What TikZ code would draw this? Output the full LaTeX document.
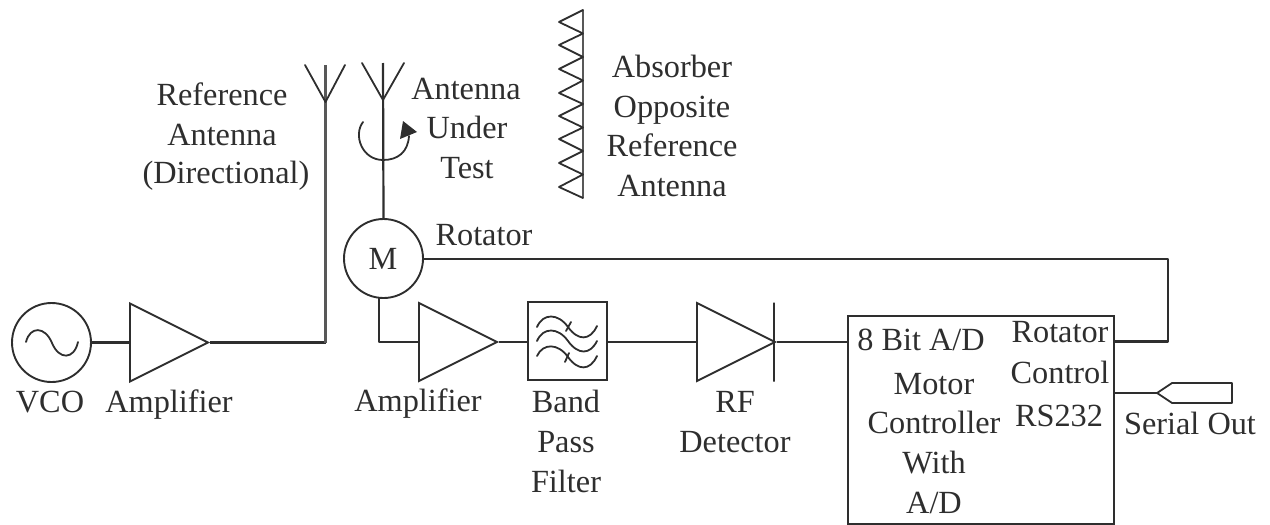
\documentclass[tikz,border=0pt]{standalone}
\usepackage{fontspec}
\setmainfont{Liberation Serif}
\usetikzlibrary{shapes.geometric,arrows.meta}
\definecolor{ink}{HTML}{2E2E2E}
\tikzset{
  wire/.style={draw=ink,line width=2.2pt,line join=round},
  thin wire/.style={draw=ink,line width=1.8pt,line cap=round,line join=round},
  shaft/.style={draw=ink!80,line width=2.8pt},
  amp/.style={isosceles triangle,isosceles triangle stretches,draw=ink,line width=1.9pt,
    minimum width=78pt,minimum height=78pt,inner sep=0pt,anchor=west},
  disc/.style={circle,draw=ink,line width=1.9pt,minimum size=79pt,inner sep=0pt},
  lbl/.style={text=ink,inner sep=0pt,anchor=base,font=\fontsize{32.3}{38}\selectfont},
}
\begin{document}
\begin{tikzpicture}[x=1pt,y=-1pt]
\useasboundingbox (0,0) rectangle (1270,525);
% blocks
\node[disc] (vco) at (51.5,342.5) {};
\node[amp] (amp1) at (129,342.5) {};
\node[disc] (motor) at (383.5,258.5) {};
\node[lbl] (mlabel) at (383,269) {M};
\node[amp] (amp2) at (418,342) {};
\node[rectangle,draw=ink,line width=2.1pt,minimum width=79pt,minimum height=78pt,inner sep=0pt] (filter) at (567.5,341) {};
\node[amp] (amp3) at (696,342) {};
\node[rectangle,draw=ink,line width=1.8pt,minimum width=0pt,minimum height=79pt,inner sep=0pt] (diode) at (774,342) {};
\node[rectangle,draw=ink,line width=2.1pt,minimum width=266pt,minimum height=208pt,inner sep=0pt] (box) at (981,420) {};
% free-end coordinates
\coordinate (ant1base) at (325.5,342.5);
\coordinate (ant1top) at (325.5,65);
\coordinate (ant1join) at (325.5,102);
\coordinate (ant1l) at (305,65);
\coordinate (ant1r) at (345,65);
\coordinate (ant2top) at (383,63);
\coordinate (ant2join) at (383,100);
\coordinate (ant2l) at (362,63);
\coordinate (ant2r) at (404,63);
\coordinate (mdrop) at (379,298);
\coordinate (mcorner) at (379,342);
\coordinate (boxin) at (848,342);
\coordinate (boxrot) at (1114,341.5);
\coordinate (rotc1) at (1168,259);
\coordinate (rotc2) at (1168,341.5);
\coordinate (boxser) at (1114,393);
\coordinate (sertip) at (1157,393);
% connectors
\draw[wire] (vco.east) -- (amp1.west);
\draw[wire] (amp1.apex) -- (ant1base);
\draw[shaft] (ant1base) -- (ant1top);
\draw[thin wire] (ant1l) -- (ant1join) -- (ant1r);
\draw[wire] (motor.north) -- (ant2top);
\draw[thin wire] (ant2l) -- (ant2join) -- (ant2r);
\draw[wire] (mdrop) -- (mcorner) -- (amp2.west);
\draw[wire] (amp2.apex) -- (filter.west |- amp2.apex);
\draw[wire] (filter.east |- amp3.west) -- (amp3.west);
\draw[wire] (amp3.apex) -- (boxin);
\draw[wire] (motor.east |- rotc1) -- (rotc1) -- (rotc2) -- (boxrot);
\draw[wire] (boxser) -- (sertip);
% serial connector
\draw[thin wire] (sertip) -- (1172,383) -- (1232,383) -- (1232,403) -- (1172,403) -- cycle;
% oscillator sine
\draw[thin wire] (26,342) .. controls (30,326) and (45,326) .. (52,343) .. controls (59,360) and (74,360) .. (78,342);
% filter waves
\draw[thin wire] (537,327) .. controls (543,313) and (558,313) .. (568,327) .. controls (578,341) and (590,341) .. (597,326);
\draw[thin wire] (537,341) .. controls (543,327) and (558,327) .. (568,341) .. controls (578,355) and (590,355) .. (597,341);
\draw[thin wire] (537,356) .. controls (543,343) and (558,343) .. (568,357) .. controls (578,371) and (590,371) .. (597,356);
\draw[thin wire] (566,331) -- (571,322);
\draw[thin wire] (565,362) -- (569,353);
% rotation arrow
\draw[thin wire] (363,122) .. controls (353,135) and (362,160) .. (383,160) .. controls (398,160) and (408,152) .. (409,136);
\fill[ink] (417,132) -- (403,121) -- (400,139) -- cycle;
% absorber
\draw[shaft] (583,10) -- (583,198);
\draw[thin wire] (583,10) -- (559,22) -- (583,33.5) -- (559,45) -- (583,57) -- (559,69) -- (583,80.5) -- (559,93) -- (583,104) -- (559,116) -- (583,127.5) -- (559,139) -- (583,151) -- (559,163) -- (583,174.5) -- (559,187) -- (583,198);
% labels
\node[lbl] (tvco) at (50,412) {VCO};
\node[lbl] (tamp1) at (169,412) {Amplifier};
\node[lbl] (tamp2) at (418,411) {Amplifier};
\node[lbl] (tref1) at (222,105) {Reference};
\node[lbl] (tref2) at (222,145) {Antenna};
\node[lbl] (tref3) at (226,183) {(Directional)};
\node[lbl] (taut1) at (466,99) {Antenna};
\node[lbl] (taut2) at (467,138) {Under};
\node[lbl] (taut3) at (467,178) {Test};
\node[lbl] (trot) at (484,245) {Rotator};
\node[lbl] (tabs1) at (672,77) {Absorber};
\node[lbl] (tabs2) at (672,117) {Opposite};
\node[lbl] (tabs3) at (672,156) {Reference};
\node[lbl] (tabs4) at (672,196) {Antenna};
\node[lbl] (tbp1) at (566,412) {Band};
\node[lbl] (tbp2) at (566,452) {Pass};
\node[lbl] (tbp3) at (566,492) {Filter};
\node[lbl] (trf1) at (735,412) {RF};
\node[lbl] (trf2) at (735,452) {Detector};
\node[lbl] (tadc) at (921,350) {8 Bit A/D};
\node[lbl] (tmc1) at (934,394) {Motor};
\node[lbl] (tmc2) at (934,433) {Controller};
\node[lbl] (tmc3) at (934,473) {With};
\node[lbl] (tmc4) at (934,513) {A/D};
\node[lbl] (trc1) at (1060,342) {Rotator};
\node[lbl] (trc2) at (1060,383) {Control};
\node[lbl] (trc3) at (1059,426) {RS232};
\node[lbl] (tser) at (1190,434) {Serial Out};
\end{tikzpicture}
\end{document}
